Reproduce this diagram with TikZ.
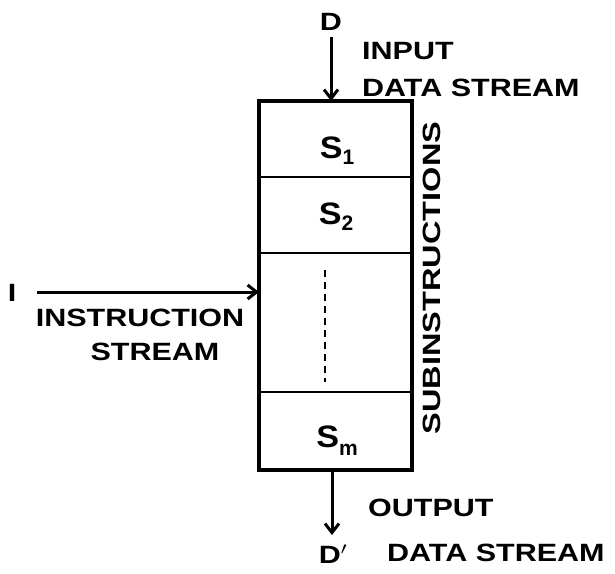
\documentclass[tikz,border=0pt]{standalone}
\usepackage{fontspec}
\setmainfont{Liberation Sans}
\usetikzlibrary{arrows.meta}
\newcommand{\wide}[1]{\scalebox{1.22}[1]{#1}}
\begin{document}
\begin{tikzpicture}[x=1pt,y=-1pt,
  lbl/.style={font=\fontsize{25}{30}\bfseries\selectfont, inner sep=0pt},
  sub/.style={font=\fontsize{31}{32}\bfseries\selectfont, inner sep=0pt},
  boxline/.style={line width=3.8pt},
  arr/.style={line width=3pt, -{Straight Barb[length=9pt,width=14pt,line width=3pt]}}]
\useasboundingbox (0,0) rectangle (615,573);
% box
\coordinate (tl) at (259,101);
\coordinate (br) at (412,470);
\draw[boxline] (tl) rectangle (br);
\coordinate (d1l) at (259,177); \coordinate (d1r) at (412,177);
\coordinate (d2l) at (259,253); \coordinate (d2r) at (412,253);
\coordinate (d3l) at (259,392); \coordinate (d3r) at (412,392);
\draw[line width=2.5pt] (d1l) -- (d1r);
\draw[line width=2.5pt] (d2l) -- (d2r);
\draw[line width=2.5pt] (d3l) -- (d3r);
\coordinate (dsa) at (325,270); \coordinate (dsb) at (325,382);
\draw[line width=1.6pt, dash pattern=on 7pt off 5pt] (dsa) -- (dsb);
% subinstructions
\node[sub] (s1) at (337,151) {\scalebox{1.1}[1]{S}\raisebox{-0.2em}{\fontsize{21}{22}\selectfont 1}};
\node[sub] (s2) at (336,217) {\scalebox{1.1}[1]{S}\raisebox{-0.2em}{\fontsize{21}{22}\selectfont 2}};
\node[sub] (sm) at (337,441) {\scalebox{1.1}[1]{S}\raisebox{-0.25em}{\fontsize{21}{22}\selectfont m}};
\node[lbl, rotate=90] (subi) at (432,278) {\scalebox{1.3}[1]{SUBINSTRUCTIONS}};
% input
\node[lbl] (D) at (331,22) {\wide{D}};
\coordinate (din) at (331,37);
\coordinate (dtop) at (331,101);
\draw[arr] (din) -- (dtop);
\node[lbl, anchor=west] (inp) at (362,51) {\wide{INPUT}};
\node[lbl, anchor=west] (ids) at (362,88) {\wide{DATA STREAM}};
% instruction
\node[lbl] (I) at (12,293) {\wide{I}};
\coordinate (iin) at (37,292);
\coordinate (ibox) at (259,292);
\draw[arr] (iin) -- (ibox);
\node[lbl] (ins) at (140,318) {\wide{INSTRUCTION}};
\node[lbl] (insb) at (155,352) {\wide{STREAM}};
% output
\coordinate (obox) at (332,470);
\coordinate (oend) at (332,535);
\draw[arr] (obox) -- (oend);
\node[lbl] (Dp) at (333,554) {\wide{D$'$}};
\node[lbl, anchor=west] (out) at (368,508) {\wide{OUTPUT}};
\node[lbl, anchor=west] (ods) at (387,553) {\wide{DATA STREAM}};
\end{tikzpicture}
\end{document}
